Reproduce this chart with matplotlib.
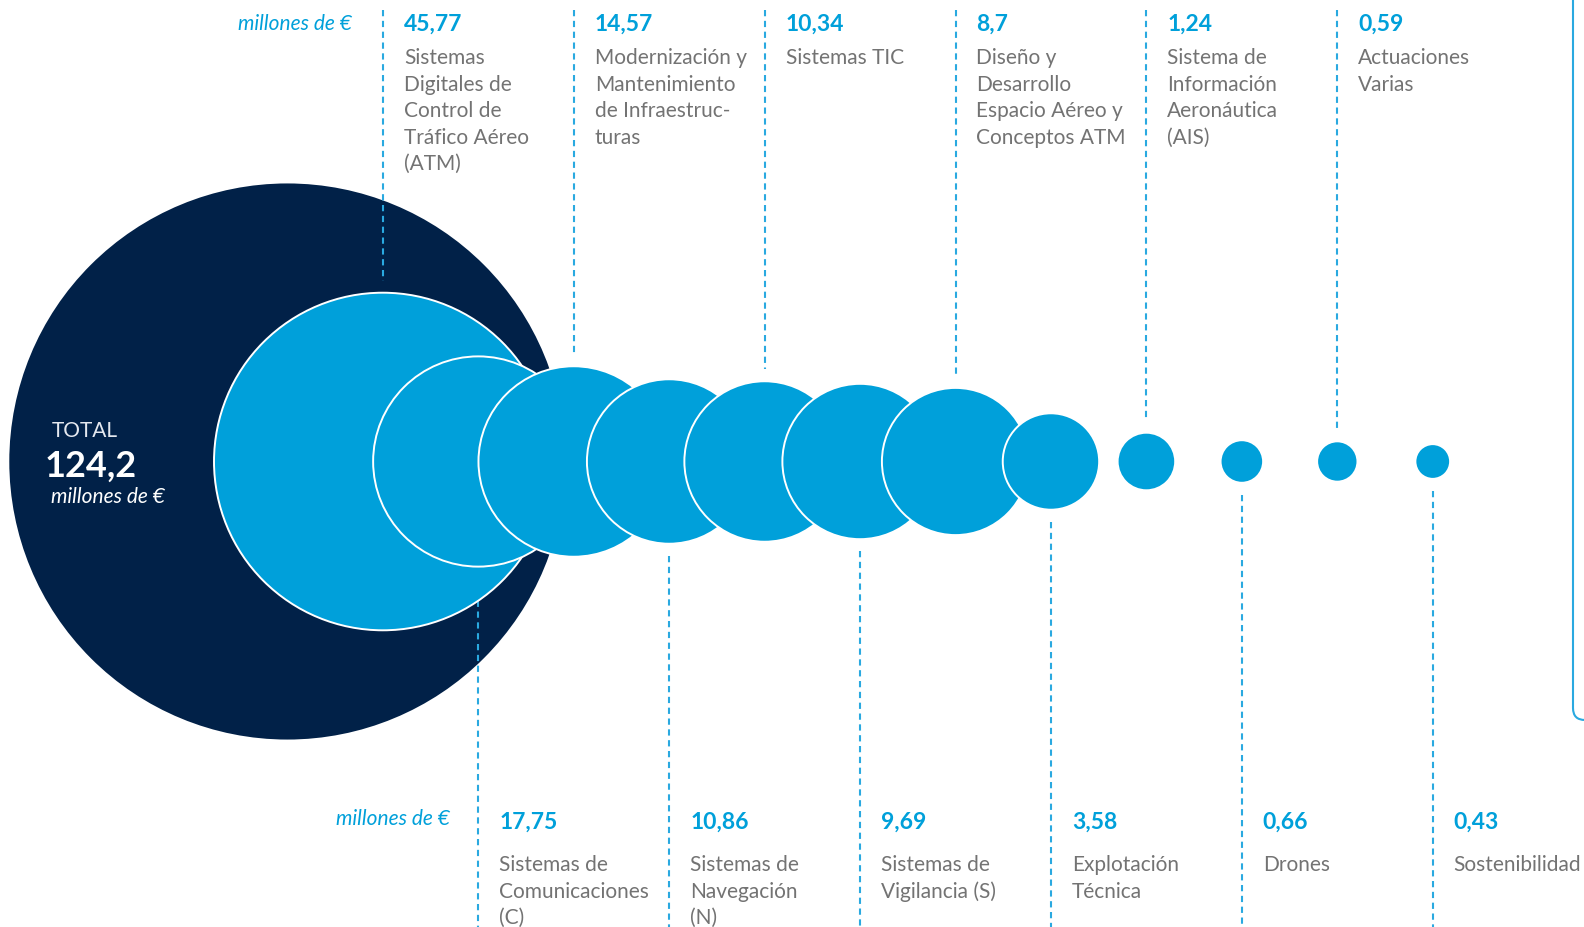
import matplotlib
matplotlib.use("Agg")
import matplotlib.pyplot as plt
from matplotlib.patches import Circle
from matplotlib.path import Path
from matplotlib.patches import PathPatch
import numpy as np

# ---------------- data ----------------
total_value = 124.2
total_label = "124,2"
values = [45.77, 17.75, 14.57, 10.86, 10.34, 9.69, 8.7, 3.58, 1.24, 0.66, 0.59, 0.43]
value_labels = ["45,77", "17,75", "14,57", "10,86", "10,34", "9,69",
                "8,7", "3,58", "1,24", "0,66", "0,59", "0,43"]
categories = [
    ["Sistemas", "Digitales de", "Control de", "Tráfico Aéreo", "(ATM)"],
    ["Sistemas de", "Comunicaciones", "(C)"],
    ["Modernización y", "Mantenimiento", "de Infraestruc-", "turas"],
    ["Sistemas de", "Navegación", "(N)"],
    ["Sistemas TIC"],
    ["Sistemas de", "Vigilancia (S)"],
    ["Diseño y", "Desarrollo", "Espacio Aéreo y", "Conceptos ATM"],
    ["Explotación", "Técnica"],
    ["Sistema de", "Información", "Aeronáutica", "(AIS)"],
    ["Drones"],
    ["Actuaciones", "Varias"],
    ["Sostenibilidad"],
]
unit_label = "millones de €"

# ---------------- style ----------------
NAVY = "#012148"
BLUE = "#00a0da"
LINE_BLUE = "#2aa9e0"
GRAY = "#737373"
FONT = "Lato"

W, H = 1584, 927
fig = plt.figure(figsize=(W / 100, H / 100), dpi=100)
ax = fig.add_axes([0, 0, 1, 1])
ax.set_xlim(0, W)
ax.set_ylim(H, 0)
ax.set_aspect("equal")
ax.axis("off")

k = 24.95          # pixels per sqrt(million €)
cy = 461.5
x0 = 382.8
dx = 95.45

# total circle
r_tot = k * np.sqrt(total_value)
ax.add_patch(Circle((x0 - dx, cy), r_tot, facecolor=NAVY, edgecolor="none", zorder=1))

ax.text(52, 437, "TOTAL", color="#e4e8ef", fontsize=15, family=FONT,
        va="baseline", ha="left", zorder=20)
ax.text(45, 477, total_label, color="white", fontsize=26, family=FONT,
        fontweight="bold", va="baseline", ha="left", zorder=20)
ax.text(51, 503, unit_label, color="white", fontsize=15, family=FONT,
        style="italic", va="baseline", ha="left", zorder=20)

# unit labels
ax.text(352, 30, unit_label, color=BLUE, fontsize=15, family=FONT,
        style="italic", va="baseline", ha="right")
ax.text(450, 825, unit_label, color=BLUE, fontsize=15, family=FONT,
        style="italic", va="baseline", ha="right")

gap = 12
for i, (v, vl, cat) in enumerate(zip(values, value_labels, categories)):
    cx = x0 + dx * i
    r = k * np.sqrt(v) + (1.0 if v < 5 else 0.0)
    ax.add_patch(Circle((cx, cy), r, facecolor=BLUE, edgecolor="white",
                        linewidth=1.4, zorder=3 + i))
    top = (i % 2 == 0)
    if top:
        ax.plot([cx, cx], [10, cy - r - gap], color=LINE_BLUE, lw=1.5,
                linestyle=(0, (3.0, 2.2)), zorder=2)
        ax.text(cx + 21, 31, vl, color=BLUE, fontsize=16.5, family=FONT,
                fontweight="bold", va="baseline", ha="left")
        for j, line in enumerate(cat):
            ax.text(cx + 21, 64 + 26.5 * j, line, color=GRAY, fontsize=15,
                    family=FONT, va="baseline", ha="left")
    else:
        ax.plot([cx, cx], [cy + r + gap, H], color=LINE_BLUE, lw=1.5,
                linestyle=(0, (3.0, 2.2)), zorder=2)
        ax.text(cx + 21, 829, vl, color=BLUE, fontsize=16.5, family=FONT,
                fontweight="bold", va="baseline", ha="left")
        for j, line in enumerate(cat):
            ax.text(cx + 21, 871 + 26.5 * j, line, color=GRAY, fontsize=15,
                    family=FONT, va="baseline", ha="left")

# right panel edge (rounded corner)
verts = [(1573, 0), (1573, 708), (1573, 720), (1585, 720)]
codes = [Path.MOVETO, Path.LINETO, Path.CURVE3, Path.CURVE3]
ax.add_patch(PathPatch(Path(verts, codes), facecolor="none",
                       edgecolor=LINE_BLUE, lw=1.5, zorder=2))

fig.savefig("out.png", dpi=100)
